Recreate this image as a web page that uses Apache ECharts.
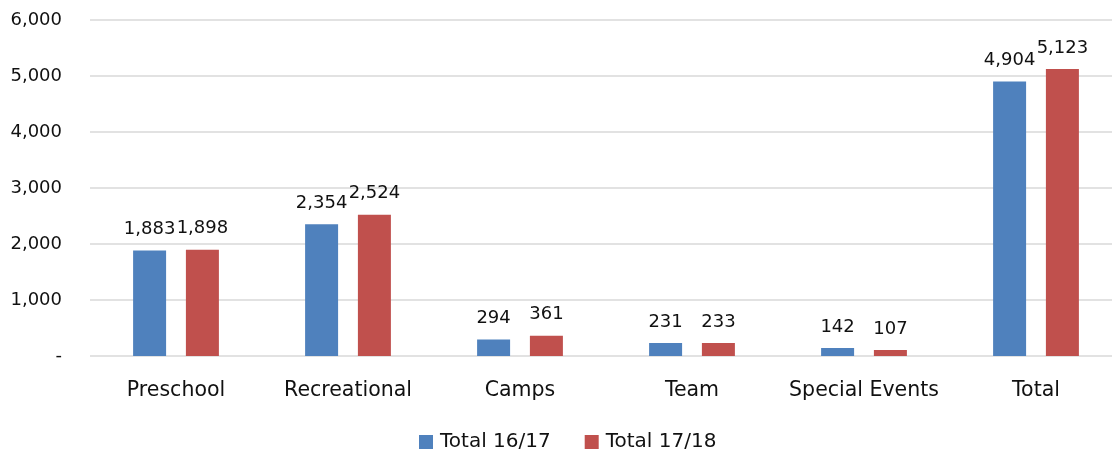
<!DOCTYPE html>
<html>
<head>
<meta charset="utf-8">
<script src="https://cdn.jsdelivr.net/npm/echarts@6/dist/echarts.min.js"></script>
<style>
  html, body { margin: 0; padding: 0; background: #fff; }
  #chart { width: 1112px; height: 450px; }
</style>
</head>
<body>
<div id="chart"></div>
<script>
// Program participation by category, two seasons
const categories = ['Preschool', 'Recreational', 'Camps', 'Team', 'Special Events', 'Total'];
const seriesNames = ['Total 16/17', 'Total 17/18'];
const total1617 = [1883, 2354, 294, 231, 142, 4904];
const total1718 = [1898, 2524, 361, 233, 107, 5123];
const yTicks = [0, 1000, 2000, 3000, 4000, 5000, 6000];

const colors = ['#4F81BD', '#C0504D'];
const font = 'DejaVu Sans';
const fmt = v => v === 0 ? '-' : v.toLocaleString('en-US');

const chart = echarts.init(document.getElementById('chart'), null, { renderer: 'canvas' });

const barLabel = {
  show: true,
  position: 'top',
  distance: 12,
  color: '#111',
  fontFamily: font,
  fontSize: 18,
  formatter: p => fmt(p.value)
};

chart.setOption({
  animation: false,
  color: colors,
  // plot area runs slightly past the right edge of the canvas
  grid: { left: 90, width: 1032, top: 20, height: 336, containLabel: false, outerBoundsMode: 'none' },
  legend: {
    data: seriesNames,
    top: 427,
    left: 414,
    itemWidth: 14,
    itemHeight: 14,
    itemGap: 34,
    icon: 'rect',
    textStyle: { color: '#111', fontFamily: font, fontSize: 20, padding: [0, 0, 0, 2] }
  },
  xAxis: {
    type: 'category',
    data: categories,
    axisLine: { show: false },
    axisTick: { show: false },
    axisLabel: { interval: 0, color: '#111', fontFamily: font, fontSize: 20.5, margin: 24 }
  },
  yAxis: {
    type: 'value',
    min: yTicks[0],
    max: yTicks[yTicks.length - 1],
    interval: yTicks[1] - yTicks[0],
    axisLine: { show: false },
    axisTick: { show: false },
    splitLine: { lineStyle: { color: '#d9d9d9', width: 1.5 } },
    axisLabel: { color: '#111', fontFamily: font, fontSize: 18, margin: 28, formatter: fmt }
  },
  series: [
    { name: seriesNames[0], type: 'bar', data: total1617, barWidth: 33, barGap: '60%', label: barLabel },
    { name: seriesNames[1], type: 'bar', data: total1718, barWidth: 33, barGap: '60%', label: barLabel }
  ]
});
</script>
</body>
</html>
